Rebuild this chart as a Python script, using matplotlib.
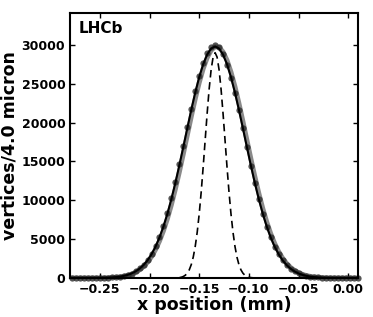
import numpy as np
import matplotlib
matplotlib.use("Agg")
from matplotlib import pyplot as plt

# bin centres, 4 micron bins
x_bins = np.round(np.arange(-0.278, 0.0105, 0.004), 4)

# measured vertices per bin
counts = [0, 0, 2, 0, 4, 6, 12, 15, 30, 44, 78, 112, 185, 262, 415, 580, 870,
          1230, 1690, 2320, 3110, 4090, 5260, 6700, 8380, 10270, 12380, 14620,
          17000, 19420, 21790, 24010, 26020, 27700, 29000, 29720, 29950,
          29700, 28840, 27450, 25760, 23790, 21580, 19250, 16820, 14470, 12210,
          10130, 8260, 6610, 5220, 4010, 3060, 2270, 1660, 1200, 840, 590, 400,
          268, 176, 112, 70, 47, 27, 18, 9, 6, 3, 2, 1, 0, 0]

# fit curve
fit = [0, 0, 1, 2, 3, 6, 10, 17, 28, 46, 73, 115, 178, 270, 403, 591, 851,
       1204, 1673, 2283, 3062, 4033, 5219, 6634, 8286, 10165, 12251, 14505,
       16871, 19277, 21639, 23862, 25849, 27509, 28759, 29536, 29800,
       29536, 28759, 27509, 25849, 23862, 21639, 19277, 16871, 14505, 12251,
       10165, 8286, 6634, 5219, 4033, 3062, 2283, 1673, 1204, 851, 591, 403,
       270, 178, 115, 73, 46, 28, 17, 10, 6, 3, 2, 1, 0, 0]

# second (grey) fit curve
fit2 = [0, 0, 1, 1, 3, 5, 8, 14, 23, 38, 61, 97, 152, 232, 348, 514, 744,
        1059, 1482, 2036, 2748, 3645, 4748, 6077, 7639, 9435, 11447, 13643,
        15975, 18376, 20765, 23051, 25138, 26930, 28343, 29303, 29763,
        29697, 29109, 28030, 26515, 24641, 22493, 20174, 17774, 15383, 13079,
        10925, 8965, 7226, 5722, 4452, 3403, 2554, 1884, 1365, 971, 679, 467,
        315, 209, 136, 87, 55, 34, 20, 12, 7, 4, 2, 1, 1, 0]

# narrow (dashed) curve, 2 micron steps
x_narrow = np.concatenate([[-0.28], np.linspace(-0.174, -0.094, 41), [0.01]])
narrow_half = [12, 25, 51, 102, 195, 356, 626, 1058, 1723, 2700, 4074, 5912,
               8250, 11077, 14302, 17755, 21190, 24313, 26814, 28437]
narrow = [0] + narrow_half + [29000] + narrow_half[::-1] + [0]

plt.rcParams['font.family'] = 'DejaVu Sans'
plt.rcParams['font.weight'] = 'bold'

fig = plt.figure(figsize=(3.73, 3.17), dpi=100)
ax = fig.add_axes([0.188, 0.123, 0.772, 0.837])

ax.plot(x_bins, fit2, color="#8a8a8a", linewidth=3.5, zorder=1)
ax.plot(x_bins, counts, "o", color="#2a2a2a", alpha=0.8, markersize=4.5,
        markeredgewidth=0, zorder=2, clip_on=False)
ax.plot(x_bins, fit, color="black", linewidth=1.5, zorder=3)
ax.plot(x_narrow, narrow, color="black", linewidth=1.2, dashes=(4.5, 2.8), zorder=4)

ax.set_xlim(-0.28, 0.01)
ax.set_ylim(0, 34150)
ax.set_xticks([-0.25, -0.20, -0.15, -0.10, -0.05, 0.00])
ax.set_yticks([0, 5000, 10000, 15000, 20000, 25000, 30000])

ax.tick_params(direction="in", top=True, right=True, length=3.6, width=1,
               labelsize=9, pad=3.5)
for lab in ax.get_xticklabels() + ax.get_yticklabels():
    lab.set_fontweight("bold")
for sp in ax.spines.values():
    sp.set_linewidth(1.5)

ax.set_xlabel("x position (mm)", fontsize=12.5, fontweight="bold", labelpad=0)
ax.set_ylabel("vertices/4.0 micron", fontsize=12.5, fontweight="bold", labelpad=2)
ax.text(0.03, 0.97, "LHCb", transform=ax.transAxes, fontsize=11,
        fontweight="bold", va="top", ha="left")

plt.savefig("out.png", dpi=100)
